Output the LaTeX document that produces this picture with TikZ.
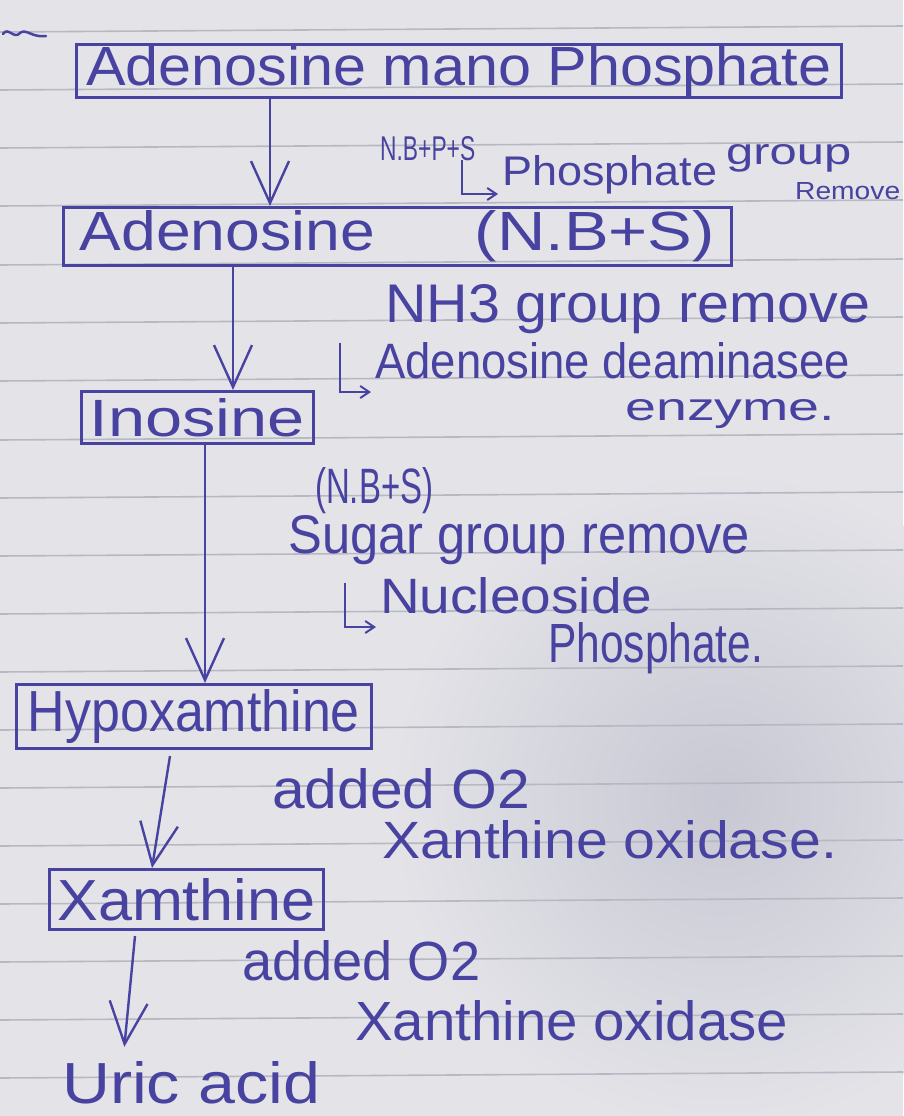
\documentclass[tikz,border=0pt]{standalone}
\usepackage{fontspec}
\setmainfont{Liberation Sans}
\usetikzlibrary{arrows.meta}
\definecolor{ink}{RGB}{72,66,160}
\definecolor{paper}{RGB}{227,227,232}
\definecolor{shadowc}{RGB}{200,200,212}
\definecolor{rulec}{RGB}{184,184,194}
\newcommand\hw[3]{\resizebox{#1pt}{#2pt}{#3}}
\begin{document}
\begin{tikzpicture}[x=1pt,y=-1pt,
  box/.style={draw=ink, line width=2.8pt, inner sep=0pt, text=ink, anchor=north west},
  lbl/.style={text=ink, inner sep=0pt, anchor=base west},
  flow/.style={draw=ink, line width=2.4pt, -{Straight Barb[length=42pt,width=38pt,line width=2.4pt]}},
  hook/.style={draw=ink, line width=2pt, -{Straight Barb[length=9pt,width=12pt,line width=2pt]}},
  ruled/.style={draw=rulec, line width=1.6pt}]
\useasboundingbox (0,0) rectangle (903,1116);
\fill[paper] (0,0) rectangle (903,1116);
\shade[inner color=shadowc, outer color=paper] (720,800) circle (330);
\foreach \y in {32,90,148,206,265,323,381,440,498,556,614,672,730,788,846,904,962,1020,1078}
  \draw[ruled] (0,\y) -- (903,\y-6);
% pen mark
\draw[ink, line width=2.5pt, line cap=round] (3,34) .. controls (8,26) and (14,40) .. (20,33) .. controls (26,28) and (32,38) .. (46,36);

% boxes
\node[box, minimum width=765pt, minimum height=53pt] (b1) at (75,43) {\hw{745}{40}{Adenosine mano Phosphate}};
\node[box, minimum width=668pt, minimum height=58pt] (b2) at (62,206) {\hw{295}{40}{Adenosine}\hspace{100pt}\hw{240}{40}{(N.B+S)}};
\node[box, minimum width=232pt, minimum height=52pt] (b3) at (80,390) {\hw{215}{38}{Inosine}};
\node[box, minimum width=355pt, minimum height=64pt] (b4) at (15,683) {\hw{332}{42}{Hypoxamthine}};
\node[box, minimum width=274pt, minimum height=60pt] (b5) at (48,868) {\hw{258}{42}{Xamthine}};
\node[lbl, inner sep=0pt] (u) at (62,1103) {\hw{258}{42}{Uric acid}};

% annotations
\node[lbl] (t1) at (380,160) {\hw{95}{24}{N.B+P+S}};
\node[lbl] (t2) at (502,185) {\hw{215}{30}{Phosphate}};
\node[lbl] (t2b) at (726,164) {\hw{125}{20}{group}};
\node[lbl] (t3) at (795,199) {\hw{105}{17}{Remove}};
\node[lbl] (t4) at (385,322) {\hw{485}{38}{NH3 group remove}};
\node[lbl] (t5) at (375,378) {\hw{475}{36}{Adenosine deaminasee}};
\node[lbl] (t6) at (625,420) {\hw{210}{21}{enzyme.}};
\node[lbl] (t7) at (315,503) {\hw{118}{36}{(N.B+S)}};
\node[lbl] (t8) at (288,553) {\hw{462}{38}{Sugar group remove}};
\node[lbl] (t9) at (380,613) {\hw{272}{36}{Nucleoside}};
\node[lbl] (t10) at (548,662) {\hw{215}{40}{Phosphate.}};
\node[lbl] (t11) at (272,808) {\hw{258}{40}{added O2}};
\node[lbl] (t12) at (382,858) {\hw{455}{38}{Xanthine oxidase.}};
\node[lbl] (t13) at (242,980) {\hw{238}{40}{added O2}};
\node[lbl] (t14) at (355,1040) {\hw{433}{40}{Xanthine oxidase}};

% hook arrows
\coordinate (h1) at (462,160);
\coordinate (h2) at (340,343);
\coordinate (h3) at (345,583);
\draw[hook] (h1) |- ([xshift=-4pt,yshift=-9pt]t2.base west);
\draw[hook] (h2) |- ([xshift=-4pt,yshift=-14pt]t5.base west);
\draw[hook] (h3) |- ([xshift=-4pt,yshift=-14pt]t9.base west);

% flow arrows
\coordinate (x1) at (270,0);
\coordinate (x2) at (233,0);
\coordinate (x3) at (205,0);
\coordinate (s4) at (170,756);
\coordinate (e4) at (152,0);
\coordinate (s5) at (135,936);
\coordinate (e5) at (123,0);
\draw[flow] (b1.south -| x1) -- (b2.north -| x1);
\draw[flow] (b2.south -| x2) -- (b3.north -| x2);
\draw[flow] (b3.south -| x3) -- (b4.north -| x3);
\draw[flow] (s4) -- (b5.north -| e4);
\draw[flow, shorten >=14pt] (s5) -- (u.north -| e5);
\end{tikzpicture}
\end{document}
